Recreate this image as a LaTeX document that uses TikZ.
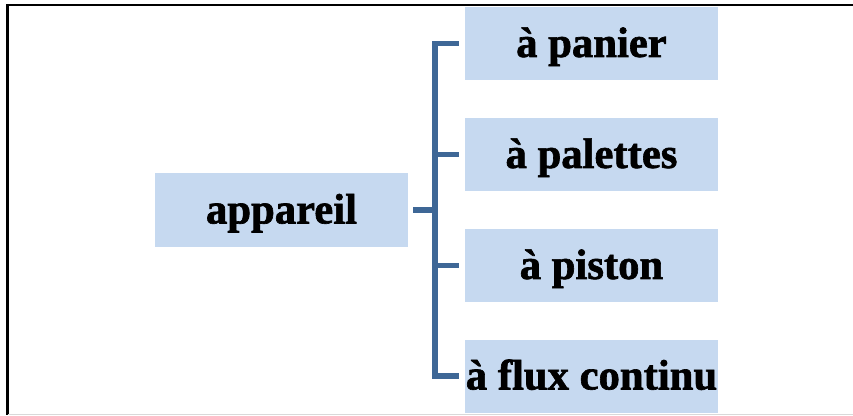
\documentclass[tikz,border=0pt]{standalone}
\usepackage{fontspec}
\setmainfont{Liberation Serif}[BoldFeatures={FakeBold=1.5}]
\definecolor{boxblue}{HTML}{C6D9F0}
\definecolor{connblue}{HTML}{3E6796}
\begin{document}
\begin{tikzpicture}[x=0.75pt,y=-0.75pt,
  box/.style={fill=boxblue, minimum width=189.75pt, minimum height=54.75pt,
    inner sep=0pt, text height=30pt, text depth=9.8pt,
    font=\bfseries\fontsize{32}{36}\selectfont},
  conn/.style={draw=connblue, line width=3.9pt}]
\useasboundingbox (0,0) rectangle (853,415);
\fill[white] (0,0) rectangle (853,415);
% frame
\draw[black, line width=1.4pt] (6,4.7) -- (853,4.7);
\draw[black, line width=2pt] (7.5,4) -- (7.5,415);
\draw[black!15, line width=0.75pt] (7.5,414) -- (853,414);
% boxes
\node[box, minimum height=55.5pt] (a) at (281.5,210) {appareil};
\node[box] (b1) at (591.5,43.5) {à panier};
\node[box] (b2) at (591.5,154.5) {à palettes};
\node[box] (b3) at (591.5,265.5) {à piston};
\node[box] (b4) at (591.5,376) {à flux continu};
% connectors
\coordinate (bus) at (435,210);
\draw[conn] ([xshift=-4.5pt]b1.west) -- (b1.west -| bus) -- (b4.west -| bus) -- ([xshift=-4.5pt]b4.west);
\draw[conn] (b2.west -| bus) -- ([xshift=-4.5pt]b2.west);
\draw[conn] (b3.west -| bus) -- ([xshift=-4.5pt]b3.west);
\draw[conn] ([xshift=3.75pt]a.east) -- (bus);
\end{tikzpicture}
\end{document}
